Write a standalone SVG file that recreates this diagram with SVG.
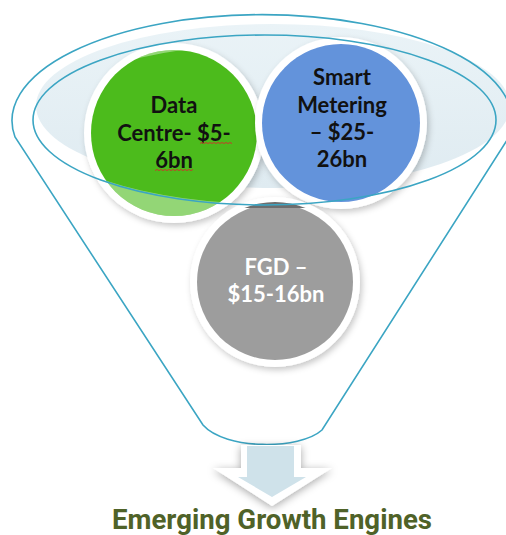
<svg xmlns="http://www.w3.org/2000/svg" width="506" height="535" viewBox="0 0 506 535">
  <style>
    .rim { fill: none; stroke: #3ba5c3; stroke-width: 1.6; }
    .ring { fill: #ffffff; }
    .lbl { font-family: Lato, "Open Sans", "Liberation Sans", sans-serif; font-weight: 700; font-size: 22px; text-anchor: middle; }
    .dark { fill: #111111; }
    .light { fill: #ffffff; }
    .squiggle { fill: none; stroke: #d0302a; stroke-width: 0.9; }
    .title { font-family: Roboto, "Liberation Sans", sans-serif; font-weight: 700; font-size: 28px; fill: #4f6228; }
  </style>
  <defs>
    <filter id="soft" x="-20%" y="-20%" width="140%" height="140%">
      <feDropShadow dx="2" dy="3" stdDeviation="3" flood-color="#000000" flood-opacity="0.22"/>
    </filter>
    <filter id="arrowShade" x="-30%" y="-30%" width="160%" height="160%">
      <feDropShadow dx="0" dy="2" stdDeviation="4" flood-color="#000000" flood-opacity="0.35"/>
    </filter>
    <linearGradient id="mouth" x1="0" y1="0" x2="0" y2="1">
      <stop offset="0" stop-color="#eaf3f7"/>
      <stop offset="1" stop-color="#dfebf1"/>
    </linearGradient>
    <clipPath id="greenClip"><circle cx="174" cy="133" r="83"/></clipPath>
    <clipPath id="grayClip"><circle cx="275" cy="282" r="80"/></clipPath>
  </defs>

  <!-- funnel body and mouth -->
  <g id="funnel">
    <path d="M15,137 A250,106 0 1 1 509,137 L322,430 C300,450 225,450 203,425 Z" fill="#ffffff"/>
    <ellipse cx="273" cy="106" rx="237" ry="82" fill="url(#mouth)"/>
  </g>

  <!-- Data Centre -->
  <g id="node-datacentre">
    <circle cx="174" cy="133" r="90" class="ring" filter="url(#soft)"/>
    <circle cx="174" cy="133" r="83" fill="#4cbb1c"/>
    <path d="M80,40 H270 V230 H80 Z M36,124 A237,80 0 1 0 510,124 A237,80 0 1 0 36,124 Z" fill="#ffffff" fill-opacity="0.4" fill-rule="evenodd" clip-path="url(#greenClip)"/>
    <text class="lbl dark" x="174" y="113">Data</text>
    <text class="lbl dark" x="174" y="141">Centre- $5-</text>
    <text class="lbl dark" x="174" y="168">6bn</text>
    <path class="squiggle" d="M200,143.5 l2,-1 2,1 2,-1 2,1 2,-1 2,1 2,-1 2,1 2,-1 2,1 2,-1 2,1 2,-1 2,1 2,-1 2,1"/>
    <path class="squiggle" d="M155,170.5 l2,-1 2,1 2,-1 2,1 2,-1 2,1 2,-1 2,1 2,-1 2,1 2,-1 2,1 2,-1 2,1 2,-1 2,1 2,-1 2,1 2,-1"/>
  </g>

  <!-- Smart Metering -->
  <g id="node-smartmetering">
    <circle cx="341" cy="123" r="86" class="ring" filter="url(#soft)"/>
    <circle cx="341" cy="123" r="79" fill="#6393db"/>
    <text class="lbl dark" x="342" y="85">Smart</text>
    <text class="lbl dark" x="342" y="113">Metering</text>
    <text class="lbl dark" x="342" y="140">– $25-</text>
    <text class="lbl dark" x="342" y="167">26bn</text>
  </g>

  <!-- FGD -->
  <g id="node-fgd">
    <circle cx="275" cy="282" r="85" class="ring" filter="url(#soft)"/>
    <circle cx="275" cy="282" r="78" fill="#9d9d9d"/>
    <rect x="190" y="196" width="170" height="12" fill="#6d6d6d" clip-path="url(#grayClip)"/>
    <text class="lbl light" x="276" y="275">FGD –</text>
    <text class="lbl light" x="276" y="302">$15-16bn</text>
  </g>

  <!-- funnel outlines on top -->
  <g id="funnel-rim">
    <ellipse class="rim" cx="264.5" cy="120" rx="231.5" ry="85"/>
    <path class="rim" d="M15,137 A250,106 0 1 1 509,137 L322,430 C300,450 225,450 203,425 Z"/>
  </g>

  <!-- output arrow -->
  <g id="connectors">
    <path d="M241,445 H301 V468 H332 L272,506 L213,468 H241 Z" fill="#ffffff" filter="url(#arrowShade)"/>
    <path d="M247,446 H294 V477 H306 L272,497 L238,477 H247 Z" fill="#cfe2ea"/>
  </g>

  <g id="title">
    <text class="title" x="112" y="529" textLength="320" lengthAdjust="spacingAndGlyphs">Emerging Growth Engines</text>
  </g>
</svg>
